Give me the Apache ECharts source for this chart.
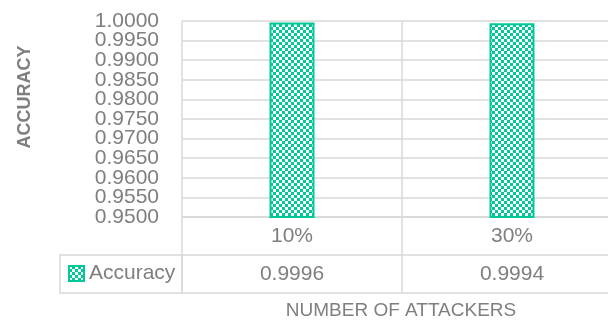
<!DOCTYPE html>
<html>
<head>
<meta charset="utf-8">
<script src="https://cdn.jsdelivr.net/npm/echarts@6/dist/echarts.min.js"></script>
<style>
html,body{margin:0;padding:0;background:#fff;}
#chart{width:608px;height:322px;}
</style>
</head>
<body>
<div id="chart"></div>
<script>
// ---- data ----
var categories = ['10%', '30%'];
var accuracy = [0.9996, 0.9994];
var seriesName = 'Accuracy';
var yMin = 0.95, yMax = 1.0, yInterval = 0.005;
var yTitle = 'ACCURACY';
var xTitle = 'NUMBER OF ATTACKERS';

// ---- styles ----
var GREEN = '#00c896';
var GRID_COLOR = '#d9d9d9';
var TEXT_COLOR = '#7f7f7f';
var FONT = '"Liberation Sans", Arial, sans-serif';

function checker() {
  var c = document.createElement('canvas');
  c.width = 6; c.height = 6;
  var g = c.getContext('2d');
  g.fillStyle = GREEN; g.fillRect(0, 0, 6, 6);
  g.fillStyle = '#ffffff';
  g.fillRect(0, 0, 3, 3);
  g.fillRect(3, 3, 3, 3);
  return c;
}

var chart = echarts.init(document.getElementById('chart'), null, {renderer: 'canvas'});
var lineStyle = {color: GRID_COLOR, width: 1.5};
var isEnd = function (v) { return Math.abs(v - yMin) < 1e-9 || Math.abs(v - yMax) < 1e-9; };

chart.setOption({
  animation: false,
  backgroundColor: '#ffffff',
  textStyle: {fontFamily: FONT},
  grid: [
    {left: 182, right: -14, top: 21, bottom: 105, outerBoundsMode: 'none', containLabel: false},
    {left: 182, right: -14, top: 217, bottom: 29, outerBoundsMode: 'none', containLabel: false}
  ],
  legend: {
    data: [seriesName],
    left: 68, top: 263, padding: 0,
    itemWidth: 15, itemHeight: 15,
    icon: 'rect',
    textStyle: {color: TEXT_COLOR, fontSize: 21, fontFamily: FONT, lineHeight: 21}
  },
  xAxis: [
    {
      type: 'category', gridIndex: 0, data: categories, boundaryGap: true,
      axisLine: {show: true, lineStyle: lineStyle},
      axisTick: {show: false},
      splitLine: {show: true, lineStyle: lineStyle},
      axisLabel: {
        margin: 0, color: TEXT_COLOR, fontSize: 21, fontFamily: FONT,
        lineHeight: 38, verticalAlign: 'top',
        formatter: function (v, i) { return v + '\n' + accuracy[i].toFixed(4); }
      }
    },
    {
      type: 'category', gridIndex: 1, data: categories, boundaryGap: true,
      axisLine: {show: false}, axisTick: {show: false}, axisLabel: {show: false},
      splitLine: {show: true, lineStyle: lineStyle}
    }
  ],
  yAxis: [
    {
      type: 'value', gridIndex: 0, min: yMin, max: yMax, interval: yInterval,
      axisLine: {show: false}, axisTick: {show: false},
      splitLine: {show: true, lineStyle: lineStyle},
      axisLabel: {
        margin: 23, color: TEXT_COLOR, fontSize: 21, fontFamily: FONT, lineHeight: 17,
        showMinLabel: false, showMaxLabel: false,
        formatter: function (v) { return v.toFixed(4); }
      }
    },
    {
      type: 'value', gridIndex: 1, min: 0, max: 2, interval: 1,
      axisLine: {show: false}, axisTick: {show: false}, axisLabel: {show: false},
      splitLine: {show: true, lineStyle: lineStyle}
    },
    {
      type: 'value', gridIndex: 0, position: 'left', min: yMin, max: yMax, interval: yInterval,
      axisLine: {show: false}, axisTick: {show: false}, splitLine: {show: false},
      axisLabel: {
        margin: 23, color: TEXT_COLOR, fontSize: 21, fontFamily: FONT, lineHeight: 17,
        showMinLabel: true, showMaxLabel: true,
        formatter: function (v) { return isEnd(v) ? v.toFixed(4) : ''; }
      }
    }
  ],
  series: [{
    name: seriesName, type: 'bar', xAxisIndex: 0, yAxisIndex: 0,
    data: accuracy, barWidth: 45,
    itemStyle: {
      color: {image: checker(), repeat: 'repeat'},
      borderColor: GREEN, borderWidth: 2
    }
  }],
  graphic: [
    {
      type: 'rect', shape: {x: 60, y: 255, width: 122, height: 38},
      style: {fill: 'none', stroke: GRID_COLOR, lineWidth: 1.5}, silent: true
    },
    {
      type: 'text', x: 25, y: 97, rotation: Math.PI / 2,
      style: {text: yTitle, fill: TEXT_COLOR, font: 'bold 18px ' + FONT, align: 'center', verticalAlign: 'middle'}
    },
    {
      type: 'text', x: 401, y: 311,
      style: {text: xTitle, fill: TEXT_COLOR, font: '19px ' + FONT, align: 'center', verticalAlign: 'middle'}
    }
  ]
});
</script>
</body>
</html>
